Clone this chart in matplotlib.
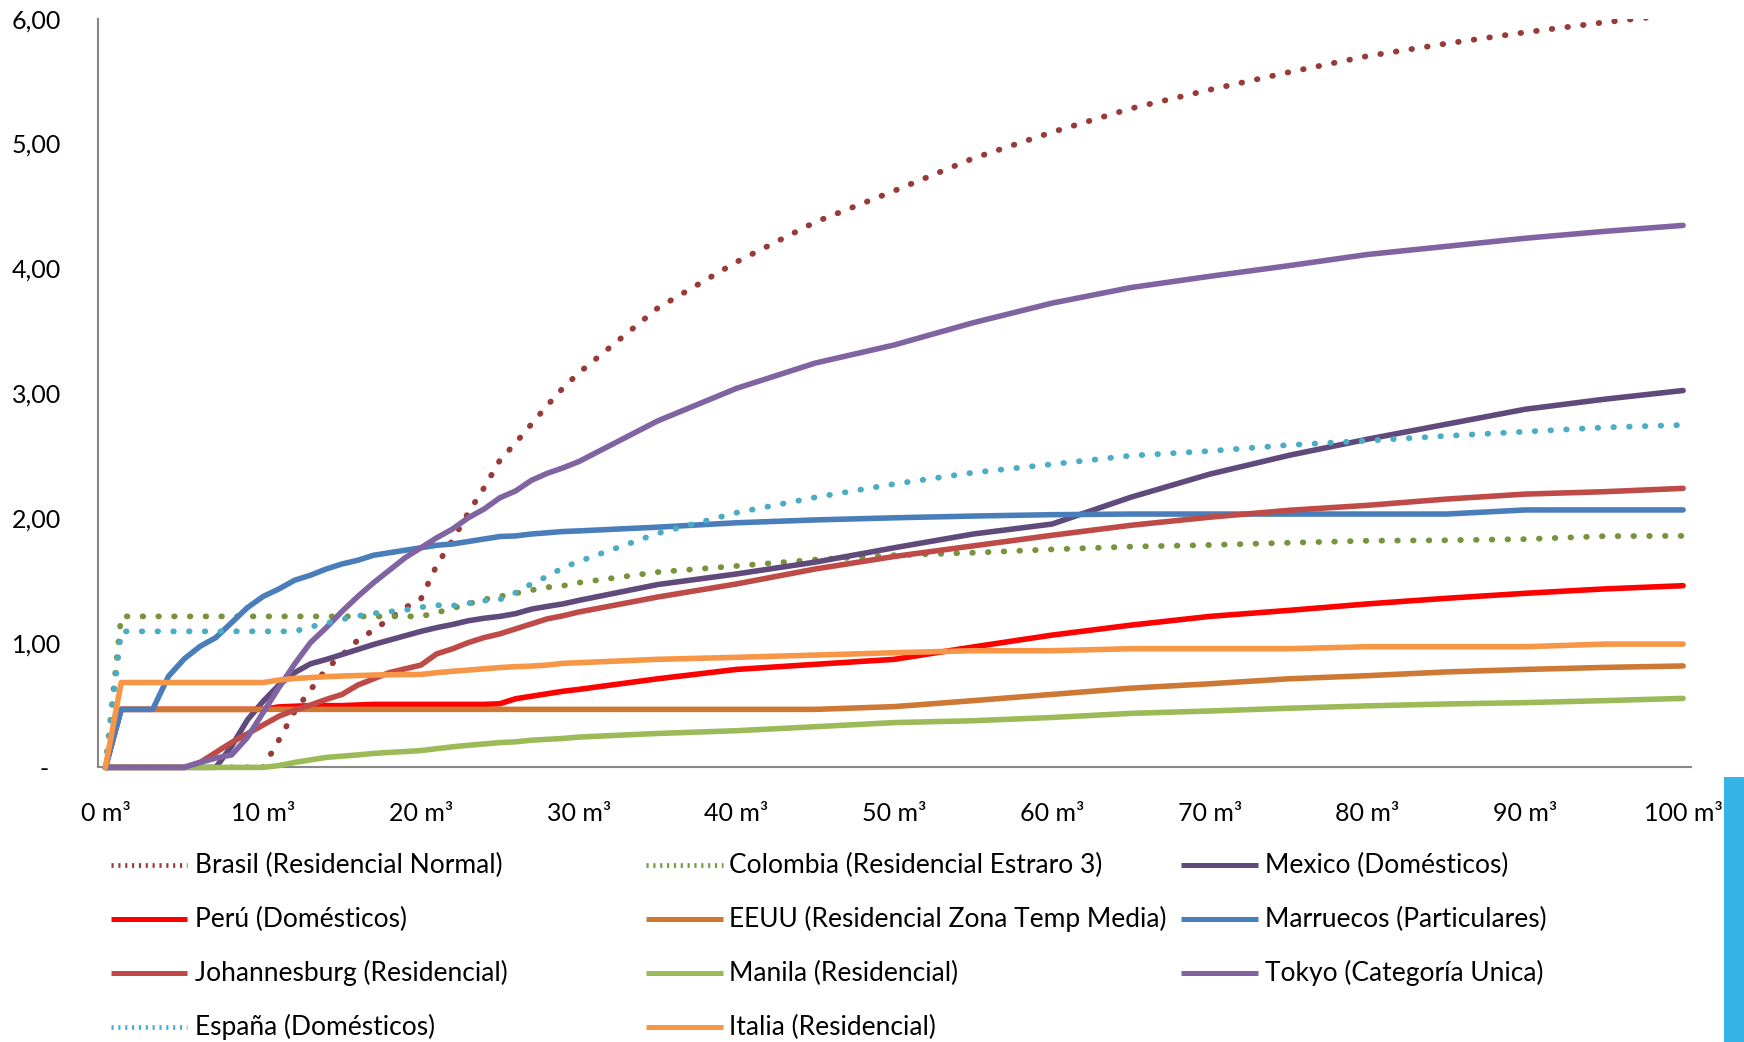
import matplotlib
matplotlib.use("Agg")
import matplotlib.pyplot as plt
from matplotlib.lines import Line2D
from matplotlib.patches import Rectangle
from matplotlib.transforms import ScaledTranslation

plt.rcParams['font.family'] = ['Lato', 'DejaVu Sans']

# ---------------- data (consumption m3 -> average tariff) ----------------
X_M3 = list(range(0, 31)) + list(range(35, 101, 5))

brasil = [0, 0, 0, 0, 0, 0, 0, 0, 0, 0, 0,
          0.22, 0.45, 0.62, 0.79, 0.90, 1.02, 1.10, 1.19, 1.28, 1.35,
          1.62, 1.82, 2.04, 2.24, 2.46, 2.60, 2.75, 2.90, 3.04, 3.16,
          3.68, 4.05, 4.37, 4.62, 4.88, 5.09, 5.28, 5.43, 5.57, 5.70, 5.80, 5.89, 5.97, 6.04]
colombia = [0, 1.21, 1.21, 1.21, 1.21, 1.21, 1.21, 1.21, 1.21, 1.21, 1.21,
            1.21, 1.21, 1.21, 1.21, 1.21, 1.21, 1.21, 1.21, 1.21, 1.21,
            1.24, 1.275, 1.31, 1.345, 1.37, 1.395, 1.42, 1.443, 1.455, 1.48,
            1.565, 1.614, 1.665, 1.70, 1.72, 1.747, 1.769, 1.782, 1.80, 1.816, 1.82, 1.829, 1.853, 1.855]
mexico = [0, 0, 0, 0, 0, 0, 0, 0,
          0.17, 0.38, 0.53, 0.66, 0.76, 0.83, 0.865, 0.905, 0.945, 0.985, 1.02, 1.055, 1.09,
          1.12, 1.145, 1.175, 1.195, 1.21, 1.232, 1.268, 1.29, 1.31, 1.338,
          1.465, 1.55, 1.645, 1.76, 1.87, 1.95, 2.165, 2.35, 2.50, 2.63, 2.75, 2.87, 2.95, 3.02]
peru = [0, 0.465, 0.465, 0.465, 0.465, 0.465, 0.465, 0.465, 0.465, 0.465, 0.465,
        0.485, 0.49, 0.495, 0.495, 0.495, 0.50, 0.505, 0.505, 0.505, 0.505,
        0.505, 0.505, 0.505, 0.505, 0.51, 0.55, 0.57, 0.59, 0.61, 0.625,
        0.71, 0.785, 0.826, 0.866, 0.965, 1.06, 1.14, 1.21, 1.258, 1.31, 1.355, 1.395, 1.43, 1.456]
eeuu = [0, 0.465, 0.465, 0.465, 0.465, 0.465, 0.465, 0.465, 0.465, 0.465, 0.465,
        0.465, 0.465, 0.465, 0.465, 0.465, 0.465, 0.465, 0.465, 0.465, 0.465,
        0.465, 0.465, 0.465, 0.465, 0.465, 0.465, 0.465, 0.465, 0.465, 0.465,
        0.465, 0.465, 0.465, 0.487, 0.535, 0.585, 0.635, 0.67, 0.71, 0.735, 0.765, 0.785, 0.801, 0.813]
marruecos = [0, 0.465, 0.465, 0.465, 0.73, 0.87, 0.97, 1.04, 1.16, 1.28, 1.37,
             1.43, 1.50, 1.54, 1.59, 1.63, 1.66, 1.70, 1.72, 1.74, 1.76,
             1.78, 1.79, 1.81, 1.83, 1.85, 1.855, 1.87, 1.88, 1.89, 1.895,
             1.925, 1.96, 1.983, 2.0, 2.014, 2.025, 2.03, 2.03, 2.03, 2.03, 2.03, 2.063, 2.063, 2.063]
johannesburg = [0, 0, 0, 0, 0, 0,
                0.04, 0.12, 0.20, 0.27, 0.34, 0.41, 0.46, 0.50, 0.545, 0.585,
                0.66, 0.71, 0.76, 0.79, 0.82, 0.91, 0.95, 1.00, 1.04, 1.07,
                1.11, 1.15, 1.19, 1.215, 1.245,
                1.365, 1.47, 1.59, 1.69, 1.775, 1.86, 1.94, 2.005, 2.06, 2.10, 2.15, 2.19, 2.209, 2.236]
manila = [0, 0, 0, 0, 0, 0, 0, 0, 0, 0, 0,
          0.015, 0.04, 0.06, 0.08, 0.09, 0.10, 0.112, 0.12, 0.127, 0.135,
          0.15, 0.165, 0.177, 0.188, 0.199, 0.205, 0.218, 0.225, 0.232, 0.243,
          0.272, 0.294, 0.326, 0.359, 0.374, 0.40, 0.433, 0.452, 0.474, 0.493, 0.508, 0.519, 0.535, 0.553]
tokyo = [0, 0, 0, 0, 0, 0,
         0.04, 0.075, 0.10, 0.24, 0.44, 0.64, 0.83, 1.00, 1.12, 1.25,
         1.37, 1.48, 1.58, 1.68, 1.76, 1.84, 1.91, 2.00, 2.07, 2.16,
         2.215, 2.30, 2.356, 2.40, 2.45,
         2.776, 3.037, 3.24, 3.385, 3.563, 3.72, 3.845, 3.935, 4.02, 4.11, 4.175, 4.24, 4.295, 4.343]
espana = [0, 1.09, 1.09, 1.09, 1.09, 1.09, 1.09, 1.09, 1.09, 1.09, 1.09, 1.09, 1.09,
          1.126, 1.155, 1.186, 1.213, 1.234, 1.248, 1.261, 1.283, 1.30, 1.295,
          1.315, 1.336, 1.345, 1.40, 1.47, 1.53, 1.60, 1.65,
          1.875, 2.041, 2.164, 2.271, 2.362, 2.429, 2.498, 2.535, 2.583, 2.618, 2.656, 2.69, 2.724, 2.744]
italia = [0, 0.68, 0.68, 0.68, 0.68, 0.68, 0.68, 0.68, 0.68, 0.68, 0.68,
          0.70, 0.713, 0.72, 0.727, 0.732, 0.736, 0.74, 0.742, 0.744, 0.745,
          0.759, 0.77, 0.78, 0.79, 0.80, 0.807, 0.812, 0.82, 0.834, 0.839,
          0.866, 0.882, 0.90, 0.919, 0.935, 0.935, 0.951, 0.951, 0.951, 0.967, 0.967, 0.967, 0.988, 0.988]

SERIES_NAMES = ["Brasil (Residencial Normal)", "Colombia (Residencial Estraro 3)", "Mexico (Domésticos)",
                "Perú (Domésticos)", "EEUU (Residencial Zona Temp Media)", "Marruecos (Particulares)",
                "Johannesburg (Residencial)", "Manila (Residencial)", "Tokyo (Categoría Unica)",
                "España (Domésticos)", "Italia (Residencial)"]
SERIES_VALUES = [brasil, colombia, mexico, peru, eeuu, marruecos, johannesburg, manila, tokyo, espana, italia]
SERIES_COLORS = ["#983A38", "#77933C", "#604A7B", "#FF0000", "#CD7834", "#4A7EBB",
                 "#BE4B48", "#9BBB59", "#8064A2", "#4BACC6", "#F79646"]
SERIES_DOTTED = [True, True, False, False, False, False, False, False, False, True, False]

X_TICKS = [0, 10, 20, 30, 40, 50, 60, 70, 80, 90, 100]
X_TICK_LABELS = ["0 m³", "10 m³", "20 m³", "30 m³", "40 m³", "50 m³", "60 m³", "70 m³", "80 m³", "90 m³", "100 m³"]
Y_TICKS = [0, 1, 2, 3, 4, 5, 6]
Y_TICK_LABELS = ["-", "1,00", "2,00", "3,00", "4,00", "5,00", "6,00"]

# ---------------- figure ----------------
W, H = 1744, 1042
fig = plt.figure(figsize=(W / 100, H / 100), dpi=100)
ax_l, ax_r, ax_t, ax_b = 97.5, 1691.0, 18.6, 767.4
ax = fig.add_axes([ax_l / W, 1 - ax_b / H, (ax_r - ax_l) / W, (ax_b - ax_t) / H])

LW = 4.0
DOT_LW = 4.2
DOT = (0, (0.1, 2.6))
for name, vals, col, dotted in zip(SERIES_NAMES, SERIES_VALUES, SERIES_COLORS, SERIES_DOTTED):
    if dotted:
        ax.plot(X_M3, vals, color=col, lw=DOT_LW, linestyle=DOT, dash_capstyle='round',
                clip_on=(name.startswith("Brasil")), zorder=3)
    else:
        ax.plot(X_M3, vals, color=col, lw=LW, solid_capstyle='round', solid_joinstyle='round',
                clip_on=False, zorder=3)

ax.set_xlim(-0.5, 100.5)
ax.set_ylim(0, 6)
for s in ['top', 'right']:
    ax.spines[s].set_visible(False)
for s in ['left', 'bottom']:
    ax.spines[s].set_color('#888888')
    ax.spines[s].set_linewidth(1.5)

ax.set_xticks(X_TICKS)
ax.set_xticklabels(X_TICK_LABELS)
ax.set_yticks(Y_TICKS)
ax.set_yticklabels(Y_TICK_LABELS)
ax.tick_params(axis='both', length=0, labelsize=18, colors='black')
ax.tick_params(axis='y', pad=26)
ax.tick_params(axis='x', pad=25)
zero_lbl = ax.get_yticklabels()[0]
zero_lbl.set_transform(zero_lbl.get_transform() + ScaledTranslation(-0.13, 0, fig.dpi_scale_trans))

# ---------------- legend (3 columns, row-major like Excel) ----------------
ROW_Y = [865, 919, 973, 1027]
COL_LINE_X = [(111, 187), (646, 723), (1181, 1258)]
COL_TEXT_X = [195, 729, 1265]
for i, (name, col, dotted) in enumerate(zip(SERIES_NAMES, SERIES_COLORS, SERIES_DOTTED)):
    r, c = divmod(i, 3)
    y = 1 - ROW_Y[r] / H
    x0, x1 = COL_LINE_X[c]
    if dotted:
        ln = Line2D([x0 / W, x1 / W], [y, y], transform=fig.transFigure, color=col, lw=3.4,
                    linestyle=(0, (0.45, 1.0)), dash_capstyle='butt')
    else:
        ln = Line2D([x0 / W, x1 / W], [y, y], transform=fig.transFigure, color=col, lw=3.6,
                    solid_capstyle='butt')
    fig.add_artist(ln)
    fig.text(COL_TEXT_X[c] / W, y, name, fontsize=19, va='center', ha='left', color='black')

# decorative slide bar at right edge
fig.add_artist(Rectangle((1724 / W, 0), 20 / W, (H - 777) / H, transform=fig.transFigure,
                         facecolor='#35B5E5', edgecolor='none', zorder=10))

fig.savefig("out.png", dpi=100)
